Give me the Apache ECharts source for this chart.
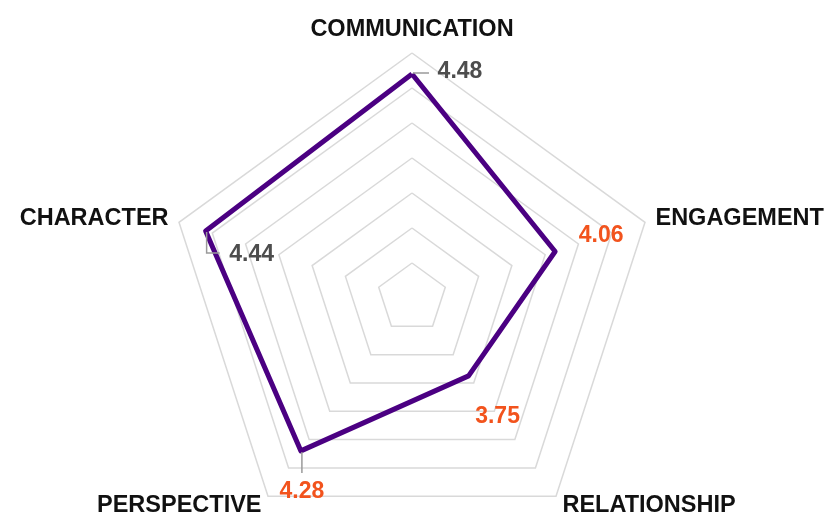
<!DOCTYPE html>
<html>
<head>
<meta charset="utf-8">
<script src="https://cdn.jsdelivr.net/npm/echarts@6/dist/echarts.min.js"></script>
<style>
  html, body { margin: 0; padding: 0; background: #fff; }
  #chart { width: 828px; height: 515px; }
</style>
</head>
<body>
<div id="chart"></div>
<script>
// radar goes counter-clockwise from the top
const indicators = ['COMMUNICATION', 'CHARACTER', 'PERSPECTIVE', 'RELATIONSHIP', 'ENGAGEMENT'];
const scores = [4.48, 4.44, 4.28, 3.75, 4.06];
const labelColors = ['#4d4d4d', '#4d4d4d', '#f2531d', '#f2531d', '#f2531d'];

// label nudges (px) from each vertex, and leader line bends
const labelShift = [[48, -2], [46, 24], [1, 41], [29, 41], [46, -16]];
const leaders = [
    [[1, -1], [17, -1]],
    [[1, 1], [1, 22], [14, 22]],
    [[1, 1], [1, 22]],
    null,
    null
];

const scaleMin = 3.2, scaleMax = 4.6;
const center = [412, 298], radius = 245;

const chart = echarts.init(document.getElementById('chart'));

const labelData = scores.map(function (v, i) {
    return [v, i * 360 / indicators.length, i];
});

function renderLabel(params, api) {
    var i = api.value(2);
    var pt = api.coord([api.value(0), api.value(1)]);
    var kids = [];
    if (leaders[i]) {
        kids.push({
            type: 'polyline',
            shape: { points: leaders[i].map(function (d) { return [pt[0] + d[0], pt[1] + d[1]]; }) },
            style: { stroke: '#9a9a9a', lineWidth: 1.5, fill: null }
        });
    }
    kids.push({
        type: 'text',
        x: pt[0] + labelShift[i][0],
        y: pt[1] + labelShift[i][1],
        style: {
            text: scores[i].toFixed(2),
            fill: labelColors[i],
            font: 'bold 23px "Liberation Sans", Arial, sans-serif',
            align: 'center',
            verticalAlign: 'middle'
        }
    });
    return { type: 'group', children: kids };
}

chart.setOption({
    backgroundColor: '#fff',
    animation: false,
    radar: {
        center: center,
        radius: radius,
        startAngle: 90,
        splitNumber: 7,
        shape: 'polygon',
        nameGap: 11,
        indicator: indicators.map(function (n) {
            return { name: n, min: scaleMin, max: scaleMax };
        }),
        axisName: {
            color: '#111',
            fontSize: 23.5,
            fontWeight: 'bold',
            fontFamily: 'Liberation Sans'
        },
        splitLine: { lineStyle: { color: '#d9d9d9', width: 1.5 } },
        splitArea: { show: false },
        axisLine: { show: false },
        axisTick: { show: false },
        axisLabel: { show: false }
    },
    polar: { center: center, radius: radius },
    angleAxis: {
        type: 'value', min: 0, max: 360, startAngle: 90, clockwise: false,
        show: false, splitLine: { show: false }, axisLine: { show: false }
    },
    radiusAxis: {
        type: 'value', min: scaleMin, max: scaleMax,
        show: false, splitLine: { show: false }, axisLine: { show: false }
    },
    series: [
        {
            type: 'radar',
            symbol: 'none',
            lineStyle: { color: '#4b0082', width: 5 },
            data: [{ value: scores }],
            z: 3
        },
        {
            type: 'custom',
            coordinateSystem: 'polar',
            renderItem: renderLabel,
            data: labelData,
            z: 4
        }
    ]
});
</script>
</body>
</html>
